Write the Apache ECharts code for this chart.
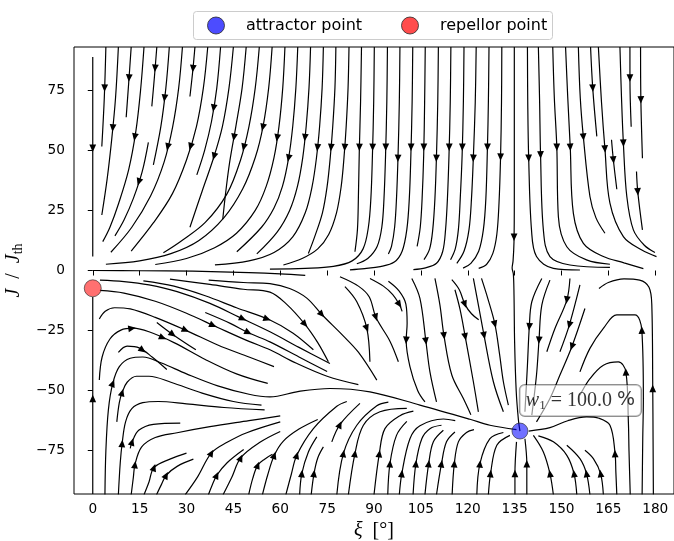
<!DOCTYPE html>
<html>
<head>
<meta charset="utf-8">
<script src="https://cdn.jsdelivr.net/npm/echarts@6/dist/echarts.min.js"></script>
<style>
html,body{margin:0;padding:0;background:#fff}
#chart{width:674px;height:541px}
</style>
</head>
<body>
<div id="chart"></div>
<script>
// Phase-plane streamlines of the (xi, J/J_th) system, flow direction = point order.
const xTicks = [0, 15, 30, 45, 60, 75, 90, 105, 120, 135, 150, 165, 180];
const yTicks = [-75, -50, -25, 0, 25, 50, 75];
const attractor = [136.7, -66.8];
const repellor = [0, -7.4];
const weightText = '{i|w}{s|1}{r| = 100.0 }{p|%}';

// upper half, left of the vertical separatrix: down, then bending left
const upperLeft = [
  [[0,88.8],[0,5.8]],
  [[4.2,93],[3.7,72],[2.9,51.6]],
  [[8.2,93],[7.3,72],[6.1,55],[4.6,38],[2.9,23.1]],
  [[12.3,93],[11.5,78],[10.7,63.8]],
  [[16.4,93],[15.3,75],[13.8,58],[11.5,42],[8.3,28],[5.5,18],[3.2,12]],
  [[20.5,93],[19.7,80],[18.9,68.3]],
  [[17.8,53.3],[15.8,41],[13,30],[10,21],[7.1,14.4]],
  [[24.5,93],[23.4,76],[21.8,60],[19.4,44]],
  [[28.7,93],[27.5,76],[25.6,60],[22.8,45],[18.5,31],[12.5,18],[5.8,7.6]],
  [[32.7,93],[32,83],[31.1,72.4]],
  [[36.8,93],[35.4,76],[33.2,60],[30,46],[25.5,32],[19.5,20],[12.3,8.1]],
  [[40.9,93],[39.7,76],[38,62],[35.8,50],[33.3,39.8]],
  [[45,93],[43.6,76],[41.5,60],[38.7,47],[35,33],[31.1,18]],
  [[49.1,93],[47.8,76],[45.8,60],[43.8,45],[42.5,32],[41.6,21.3]],
  [[53.3,93],[52,76],[50,60],[47.3,46],[43,32],[36,20],[28,12],[22.6,7.4]],
  [[57.4,93],[56.3,76],[54.5,60],[52,47],[48,34],[42,22],[34,12.5],[25,7],[15,4],[4.2,2.6]],
  [[61.5,93],[60.8,76],[59.6,60],[58,47],[55.5,35],[52,25],[46,15.5],[39,9.5],[30,5],[20,2.5]],
  [[65.6,93],[65,76],[64,60],[62.7,47],[60.7,35],[58,26],[54,18],[46.1,7.8]],
  [[69.7,93],[69.2,76],[68.3,60],[67.2,47],[65.5,35],[63,25],[59,16],[52.5,6.9]],
  [[73.8,93],[73.4,76],[72.6,60],[71.6,47],[70.2,35],[68,24],[64,14],[58,7.5],[50,4],[39.1,2.3]],
  [[77.8,93],[77.5,76],[76.8,60],[76,47],[75,35],[73.5,24],[71,14],[69,7.1]],
  [[82,93],[81.7,76],[81.1,60],[80.4,47],[79.5,35],[78,24],[75.5,15],[72,9],[67,5],[61,2.3]],
  [[86,93],[85.7,70],[85.3,50],[85,30],[84.7,17],[83.9,7.8]],
  [[90.1,93],[89.9,70],[89.5,48],[89,30],[88.2,18],[86.5,9],[83,4],[77,1.7],[68,0.9],[56.7,0.6]],
  [[94.3,93],[94.1,70],[93.7,48],[93.2,30],[92.5,18],[91,10],[88,5],[84.5,2.8]],
  [[98.3,93],[98.1,70],[97.7,48],[97.2,30],[96.6,18],[95.6,10],[94.6,6.9]],
  [[102.4,93],[102.2,70],[101.8,48],[101.3,30],[100.5,17],[99,8],[96.5,3.5],[92,1.6],[87,0.8],[82.3,0.3]],
  [[106.4,93],[106.2,70],[105.9,48],[105.4,30],[104.8,18],[103.8,10]],
  [[110.6,93],[110.4,70],[110,48],[109.5,30],[108.8,17],[107.8,9],[106,4.5]],
  [[114.6,93],[114.4,70],[114,48],[113.5,30],[112.9,17],[112,8],[110,3],[106.5,1.1],[102.6,0.4]],
  [[118.8,93],[118.6,70],[118.2,48],[117.6,30],[117,17],[116,9],[114.5,4.5]],
  [[122.7,93],[122.4,70],[121.8,47.4],[121.2,30],[120.4,17],[118.8,8],[116.5,3]],
  [[126.8,93],[126.6,70],[126.3,51.3],[125.8,30],[125,17],[123.5,8],[121,3],[118.5,1]],
  [[130.9,93],[130.8,70],[130.5,47.2],[130,28],[129.3,15],[128,7],[126,2.5],[123.5,0.9]]
];

// vertical separatrix running from the top edge into the attractor
const separatrix = [
  [[134.9,93],[134.9,60],[134.9,30],[134.8,12],[134.5,4],[134.2,1],[134.6,-1.5],[134.8,-10],[135,-30],[135.5,-50],[136.2,-62],[136.7,-66.8]]
];

// upper half, right of the separatrix: down, then bending right
const upperRight = [
  [[139.1,93],[139.2,70],[139.5,46.7],[140.4,16.9],[142,5.8],[147.4,0.9],[155.9,0.2]],
  [[142.6,93],[143,70],[143.3,48.1],[144.2,16.9],[146.3,5.8],[152.7,2.3],[165.5,1.3]],
  [[147.2,93],[147.7,72],[148.5,51.3],[149,22.4],[151.7,9.9],[158,4.4],[165.5,2.6]],
  [[151.3,93],[152,72],[152.8,51.3],[153.8,23.8],[157,11.3],[163.4,5.8],[170,3.2],[176.2,0.8]],
  [[155.4,93],[156,72],[157,55.5],[159.1,30.8],[161,22],[163.9,15.5]],
  [[159.3,93],[160,75.8],[161.3,55.8]],
  [[161.8,93],[162.8,70],[163.9,50.6],[165.5,28],[169.8,14.1],[175.7,8.5],[180.4,5.8]],
  [[166,54.4],[166.6,46],[167.7,33.8]],
  [[168.7,93],[169.2,72],[169.8,53],[170.9,30.8],[173,16.9],[176.5,10.5],[179.9,7.5]],
  [[171.9,93],[171.9,80],[172.3,59.8]],
  [[175.3,93],[175.4,71],[175.9,46.7]],
  [[174,41.2],[174.4,32.8],[175.9,16.9]]
];

// lower half, left part: repellor fan and the arches rising from the bottom edge
const lowerLeft = [
  [[0,-93],[0,-11]],
  [[2.1,-20.2],[4,-17],[7,-15.5],[12,-16],[20,-19.5],[30,-25],[40,-31],[50,-36],[58,-40]],
  [[2.1,-45.6],[3,-36],[5.5,-28.5],[9,-24.8],[13,-24],[18,-25.5],[26,-30],[36,-37],[46,-43],[56,-47]],
  [[8.2,-34.1],[11,-31.5],[15,-32.3],[19,-36],[23.7,-41.2]],
  [[3.9,-93.3],[4.2,-75],[5,-58],[6.4,-47],[8.5,-40],[12,-36.5],[16,-36],[22,-38.5],[30,-43],[40,-48],[50,-51.5],[56.7,-52.6],[66,-50.3],[75.9,-49.1],[88.7,-50.5],[104.7,-56],[120.7,-61.9],[127.1,-64.4],[135.6,-66.2]],
  [[7.7,-63],[8.5,-55],[9.4,-50.8],[11,-46.5],[14,-44],[18,-44],[25,-46.5],[35,-51],[45,-54.5],[54,-56]],
  [[8.2,-93.3],[8.8,-80],[9.4,-72],[10.5,-63],[12.5,-57.5],[16,-55],[21,-54.5],[30,-55.5],[42,-57],[55,-58]],
  [[12,-74],[12.6,-71.3],[14.7,-66.5],[19.4,-64],[28,-63.5]],
  [[12.3,-93.3],[13,-86],[13.5,-80.8],[15.6,-73.5],[20,-69.5],[27,-67.5],[37.5,-65],[50,-62.5],[60,-60.5]],
  [[16.4,-93.3],[18,-88],[19.6,-82],[24.7,-78.5],[30,-76]],
  [[20.4,-93.3],[22,-89],[23.5,-85.2],[27,-81.5],[32.2,-78.5]],
  [[29.6,-93.3],[33.5,-86],[38,-75.9],[43,-71.5],[49.3,-67.5],[60,-63]],
  [[37,-93.3],[38.3,-89],[39.7,-85.2],[43,-80],[48.3,-74.5]],
  [[41.7,-93.3],[44.5,-86],[47.4,-77.9],[53.5,-71.5],[60,-67]],
  [[49.9,-93.3],[51.2,-86.5],[52.8,-81],[55,-78.5],[57.5,-76.5]],
  [[54.3,-93.3],[56,-85],[58.1,-76.9],[61,-71],[66,-66],[72,-62]],
  [[2.3,-4],[10,-4.6],[18,-6],[27,-8.8],[37.5,-13.7],[47,-19.5],[56.7,-25.5],[66,-32],[75.9,-38.7]],
  [[2.3,-8.3],[10,-9.4],[20,-12.8],[30,-17.8],[40,-23.7],[50,-29.5],[56.7,-33],[65,-38.5],[75,-44],[85,-47.5]],
  [[16.2,-4.3],[26,-6.5],[36,-10.5],[46,-15.5],[56.7,-20.6],[64,-26],[70.6,-33]],
  [[24.7,-3.6],[37.5,-5.8],[48.2,-7.8],[56.7,-9],[62,-14],[67.9,-22.4],[72,-30],[75.4,-38]],
  [[37.1,-4],[48.2,-5],[56.7,-5.5],[63,-7.5],[68.5,-11.5],[73.3,-18.3],[80,-27],[85,-34],[90.9,-45.6]],
  [[36,-17.5],[44,-22],[50,-26],[56.7,-29.7],[66,-36],[75,-42]],
  [[20.5,-21.6],[25.6,-26.6],[33,-33]]
];

// lower half, middle: rising from the bottom and falling from J = 0 towards the attractor
const lowerMid = [
  [[61.8,-93.3],[63.5,-85],[65.3,-76.9],[70.6,-65.8],[78.1,-56.5],[81.3,-54.5]],
  [[66.2,-93.3],[66.9,-84.5],[69,-75.5],[71.7,-69.2]],
  [[69.9,-93.3],[70.8,-84.5],[72,-78],[73.8,-73.4]],
  [[76.5,-71.3],[79.1,-64.1],[85.5,-55.3]],
  [[78.1,-93.3],[80.2,-76.2],[84.5,-64.4],[90.9,-56.3],[94.6,-54.8]],
  [[81.8,-93.3],[83.9,-76.2],[86.6,-64.4],[91.9,-58.8],[100.5,-57.4]],
  [[90,-93.3],[91.7,-76.2],[93.5,-65.8],[98.3,-60.4],[102.6,-58.5]],
  [[94.4,-93.3],[95.1,-80.4],[97.2,-68.6],[100.5,-62.8]],
  [[98.1,-93.3],[98.9,-84.5],[101.5,-70],[104.7,-64.6],[112.2,-61.8],[116,-62.5]],
  [[102.5,-93.3],[103.4,-80.4],[105.3,-70],[107.9,-65.8],[111.6,-64.4]],
  [[106.3,-93.3],[107.5,-80.4],[109,-71.3],[112.2,-66.5]],
  [[110,-93.3],[111.6,-80.4],[113.2,-71.3],[115.9,-67.2]],
  [[115,-93.3],[115.7,-80.4],[117,-71.3],[119.6,-67.4],[122,-66.2]],
  [[79.1,-2.6],[85,-6.5],[88.5,-11],[90.6,-19.5],[95.1,-29.4],[97.8,-38]],
  [[80.7,-6.7],[84.5,-13],[87.7,-24.1],[88.7,-38]],
  [[88.7,-3.3],[93,-6.5],[96,-10],[98.1,-14.1],[99,-17]],
  [[94.6,-4.5],[98,-8.5],[100.2,-14],[100.6,-22],[100.3,-29],[101.5,-40],[104,-50],[106.3,-54.7]],
  [[102.1,-3.3],[104.7,-11.6],[106.6,-29.4],[107.9,-42.2],[110,-54.7]],
  [[109.5,-3.3],[111.1,-14.4],[112.4,-27.2],[114.9,-43.5],[118.6,-53.3],[121,-60]],
  [[114.9,-3.8],[117.3,-8],[119.1,-14.1],[121.2,-18],[123.5,-20.5]],
  [[115.9,-8],[117.5,-16],[119.2,-27.6],[121.8,-46.3],[123.4,-58.8]],
  [[121.8,-3.3],[123.5,-15],[125,-25.5],[128.2,-46.3],[131.4,-58.8]],
  [[124.4,-3.3],[126.5,-12],[128.7,-22.4],[130.2,-35],[131.4,-46.3],[133,-56]]
];

// lower half, right of the attractor
const lowerRight = [
  [[143.7,-3.3],[140.5,-13],[139.7,-23.4],[139.1,-39.4],[138.3,-58.8]],
  [[146.3,-4],[143.7,-14.4],[142.8,-29],[142,-43.5],[140.5,-60.2]],
  [[152.7,-3.3],[151.7,-12.3],[147.9,-24.1],[145.3,-33.8]],
  [[155.9,-6],[152.5,-22.7],[149.5,-33.8]],
  [[157.5,-15.8],[153.3,-31.7],[149.5,-43.5],[146.3,-53.3],[142,-63]],
  [[179.4,-93.3],[179.3,-70],[179.2,-49],[178.9,-14.4],[178,-7],[175,-4],[170,-3.5],[165,-5],[162,-7.5]],
  [[175.8,-93.3],[176,-70],[176.2,-53.3],[175.7,-24.8],[173.5,-18.5],[167.7,-18.5],[163.4,-24.1],[159.1,-32.4],[155.9,-42.2]],
  [[172,-93.3],[171.6,-75],[171.4,-63],[170.6,-42.2],[168.2,-38],[163.4,-39.4],[159.1,-45],[155.9,-51.9]],
  [[167.7,-93.3],[167.4,-84],[167.1,-75.5],[165.5,-64.4],[162,-61.5],[158,-60.9],[152,-62.5],[146.3,-65.4],[139.5,-66.8]],
  [[122.9,-93.3],[123.9,-80.4],[127.1,-70],[131.4,-67.4]],
  [[126.6,-93.3],[127.3,-84.5],[129.3,-72.7],[133.5,-68.6]],
  [[135.1,-93.3],[135.1,-84.5],[135.6,-71.3]],
  [[138.9,-93.3],[138.9,-80.4],[138.3,-70]],
  [[147.4,-93.3],[146.3,-84.5],[144.2,-75.5],[141,-68.6]],
  [[154.9,-93.3],[154,-84.5],[151.7,-76.9],[147.4,-71.3],[142.6,-68.8]],
  [[159.1,-93.3],[158,-84.5],[155.9,-78.3],[151.7,-72.7]],
  [[163.4,-93.3],[162.5,-84.5],[160.2,-78.3],[157.5,-74.8]]
];

// pieces of longer trajectories drawn without an arrowhead
const tails = [
  [[0,0],[15,-0.1],[32,-0.3],[50,-0.9],[60,-1.4],[68,-2]]
];

// arrowhead positions (xi, J); each one points along the streamline it sits on
const arrowMarks = [
  [0,50.9],[3.5,75.9],[6.6,59.3],[11.6,80.1],[13.6,55.5],[15.1,36.7],[19.9,84.2],[23.1,71.7],
  [24.4,51.3],[32.2,84],[32,51.3],[38.6,67.6],[39.1,47.4],[44.8,55.5],[48.3,51.3],[53.9,59.7],
  [57.6,55.5],[61,47.2],[66.6,55.5],[70.4,51.3],[75.1,51.3],[79.5,51.3],[84,51.3],[88.4,51.3],
  [92.8,51.3],[96.8,46.7],[101.1,51.3],[105.4,51.3],[109.4,46.7],[113.6,51.3],[117.8,51.3],[122,46.7],
  [126.3,51.3],[130.5,47.2],[134.9,13.8],[139.5,46.7],[143.3,48.1],[148.5,51.3],[152.8,51.3],[157,55.5],
  [160,75.9],[163.9,50.6],[166.6,46],[169.8,53],[171.9,80.1],[175.4,71],[174.4,32.8],
  [0,-53.3],[6.6,-47],[9.4,-50.8],[12.6,-24.4],[15.8,-33.5],[22.4,-28],[25.6,-26.6],[29.4,-25.8],
  [38.3,-23.4],[48,-20.2],[49.9,-25.5],[55.9,-19.9],[9.4,-72],[12.6,-71.3],[13.5,-80.8],[19.6,-82],
  [23.5,-85.2],[38,-75.9],[39.7,-85.2],[47.3,-77.9],[52.8,-81],[58.1,-76.9],
  [73.3,-18.3],[67.9,-22.4],[87.7,-24.1],[90.6,-19.5],[98.1,-14.1],[99.4,-29],[106.6,-29.4],[112.4,-27.2],
  [119.1,-14.1],[119.2,-27.6],[65.3,-76.9],[66.9,-84.5],[70.8,-84.5],[79.1,-64.1],[80.2,-76.2],[83.9,-76.2],
  [91.7,-76.2],[95.1,-80.4],[98.9,-84.5],[103.4,-80.4],[107.5,-80.4],[111.6,-80.4],[115.7,-80.4],[123.4,-80.4],
  [125.8,-26.9],[128.7,-22.4],[139.7,-23.4],[142.8,-29],[151.7,-12.3],[152.5,-22.7],[153.3,-31.7],
  [175.7,-24.8],[170.6,-42.2],[179.2,-49.1],[166.8,-76.2],
  [127.3,-84.5],[135.1,-84.5],[138.9,-80.4],[146.3,-84.5],[154,-84.5],[158,-84.5],[162.5,-84.5]
];

const arrowLines = [].concat(upperLeft, separatrix, upperRight, lowerLeft, lowerMid, lowerRight);
const allLines = arrowLines.concat(tails);

const mathFont = 'Liberation Serif';
const tickFont = 'DejaVu Sans';
const minus = v => (v < 0 ? '\u2212' + (-v) : String(v));

// snap each arrowhead onto the nearest streamline segment and orient it with the flow
function renderArrow(params, api) {
  const target = api.coord([api.value(0), api.value(1)]);
  let best = null;
  for (const line of arrowLines) {
    const pts = line.map(p => api.coord(p));
    for (let i = 1; i < pts.length; i++) {
      const a = pts[i - 1], b = pts[i];
      const dx = b[0] - a[0], dy = b[1] - a[1];
      const len = Math.hypot(dx, dy);
      if (!len) continue;
      let t = ((target[0] - a[0]) * dx + (target[1] - a[1]) * dy) / (len * len);
      t = Math.max(0, Math.min(1, t));
      const px = a[0] + dx * t, py = a[1] + dy * t;
      const d = Math.hypot(target[0] - px, target[1] - py);
      if (!best || d < best.d) best = { d, px, py, ux: dx / len, uy: dy / len };
    }
  }
  const L = 7.5, W = 3.4;
  const { px, py, ux, uy } = best;
  const tip = [px + ux * L / 2, py + uy * L / 2];
  const bx = px - ux * L / 2, by = py - uy * L / 2;
  return {
    type: 'polygon',
    shape: { points: [tip, [bx - uy * W, by + ux * W], [bx + uy * W, by - ux * W]] },
    style: { fill: '#000' }
  };
}

const lineSeries = allLines.map(pts => ({
  type: 'line',
  data: pts,
  showSymbol: false,
  symbol: 'none',
  smooth: 0.35,
  silent: true,
  z: 2,
  lineStyle: { color: '#000', width: 1.2 }
}));

const chart = echarts.init(document.getElementById('chart'), null, { renderer: 'canvas' });
chart.setOption({
  animation: false,
  backgroundColor: '#fff',
  grid: {
    left: 74, right: 0, top: 47, bottom: 47,
    containLabel: false, outerBoundsMode: 'none',
    show: true, borderColor: '#000', borderWidth: 1
  },
  xAxis: {
    type: 'value', min: -6, max: 186,
    axisLine: { show: false },
    splitLine: { show: false },
    axisTick: { show: true, length: 5, customValues: xTicks, lineStyle: { color: '#000', width: 1 } },
    axisLabel: { customValues: xTicks, color: '#000', fontFamily: tickFont, fontSize: 13.7, margin: 8 },
    name: '{i|\u03be}{r|  [\u00b0]}',
    nameLocation: 'middle', nameGap: 22,
    nameTextStyle: {
      color: '#000',
      rich: {
        i: { fontFamily: mathFont, fontStyle: 'italic', fontSize: 20, color: '#000' },
        r: { fontFamily: mathFont, fontSize: 20, color: '#000' }
      }
    }
  },
  yAxis: {
    type: 'value', min: -93, max: 93,
    axisLine: { show: false },
    splitLine: { show: false },
    axisTick: { show: true, length: 5, customValues: yTicks, lineStyle: { color: '#000', width: 1 } },
    axisLabel: { customValues: yTicks, color: '#000', fontFamily: tickFont, fontSize: 13.7, margin: 9, formatter: minus },
    name: '{i|J}{r|  /  }{i|J}{s|th}',
    nameLocation: 'middle', nameGap: 35, nameRotate: 90,
    nameTextStyle: {
      color: '#000',
      rich: {
        i: { fontFamily: mathFont, fontStyle: 'italic', fontSize: 20, color: '#000', lineHeight: 22 },
        r: { fontFamily: mathFont, fontSize: 20, color: '#000', lineHeight: 22 },
        s: { fontFamily: mathFont, fontSize: 14, color: '#000', lineHeight: 22, verticalAlign: 'bottom', padding: [9, 0, 0, 0] }
      }
    }
  },
  series: lineSeries.concat([
    {
      type: 'custom',
      renderItem: renderArrow,
      data: arrowMarks,
      encode: { x: 0, y: 1 },
      silent: true,
      clip: true,
      z: 3
    },
    {
      type: 'scatter',
      data: [repellor],
      symbol: 'circle', symbolSize: 17,
      itemStyle: { color: 'rgba(255,0,0,0.7)', borderColor: 'rgba(40,40,40,0.8)', borderWidth: 1 },
      silent: true, z: 5
    },
    {
      type: 'scatter',
      data: [attractor],
      symbol: 'circle', symbolSize: 16,
      itemStyle: { color: 'rgba(0,0,255,0.7)', borderColor: 'rgba(40,40,40,0.8)', borderWidth: 1 },
      label: {
        show: true,
        formatter: weightText,
        position: [69, -22],
        align: 'center', verticalAlign: 'middle',
        backgroundColor: 'rgba(255,255,255,0.72)',
        borderColor: 'rgba(0,0,0,0.55)', borderWidth: 1, borderRadius: 5,
        padding: [4, 6, 4, 6],
        rich: {
          i: { fontFamily: mathFont, fontStyle: 'italic', fontSize: 20, color: '#000' },
          s: { fontFamily: mathFont, fontSize: 13, color: '#000', verticalAlign: 'bottom', padding: [10, 0, 0, 0] },
          r: { fontFamily: mathFont, fontSize: 20, color: '#000' },
          p: { fontFamily: tickFont, fontSize: 19, color: '#000' }
        }
      },
      silent: true, z: 6
    }
  ]),
  graphic: [
    { type: 'rect', z: 10, shape: { x: 193.5, y: 11.5, width: 359, height: 28, r: 3 },
      style: { fill: 'rgba(255,255,255,0.85)', stroke: '#cccccc', lineWidth: 1 } },
    { type: 'circle', z: 11, shape: { cx: 216, cy: 25.5, r: 8.5 },
      style: { fill: 'rgba(0,0,255,0.7)', stroke: 'rgba(40,40,40,0.8)', lineWidth: 1 } },
    { type: 'text', z: 11, style: { text: 'attractor point', x: 246, y: 25.5, verticalAlign: 'middle',
      font: '16px "DejaVu Sans"', fill: '#000' } },
    { type: 'circle', z: 11, shape: { cx: 410, cy: 25.5, r: 8.5 },
      style: { fill: 'rgba(255,0,0,0.7)', stroke: 'rgba(40,40,40,0.8)', lineWidth: 1 } },
    { type: 'text', z: 11, style: { text: 'repellor point', x: 440, y: 25.5, verticalAlign: 'middle',
      font: '16px "DejaVu Sans"', fill: '#000' } }
  ]
});
</script>
</body>
</html>
